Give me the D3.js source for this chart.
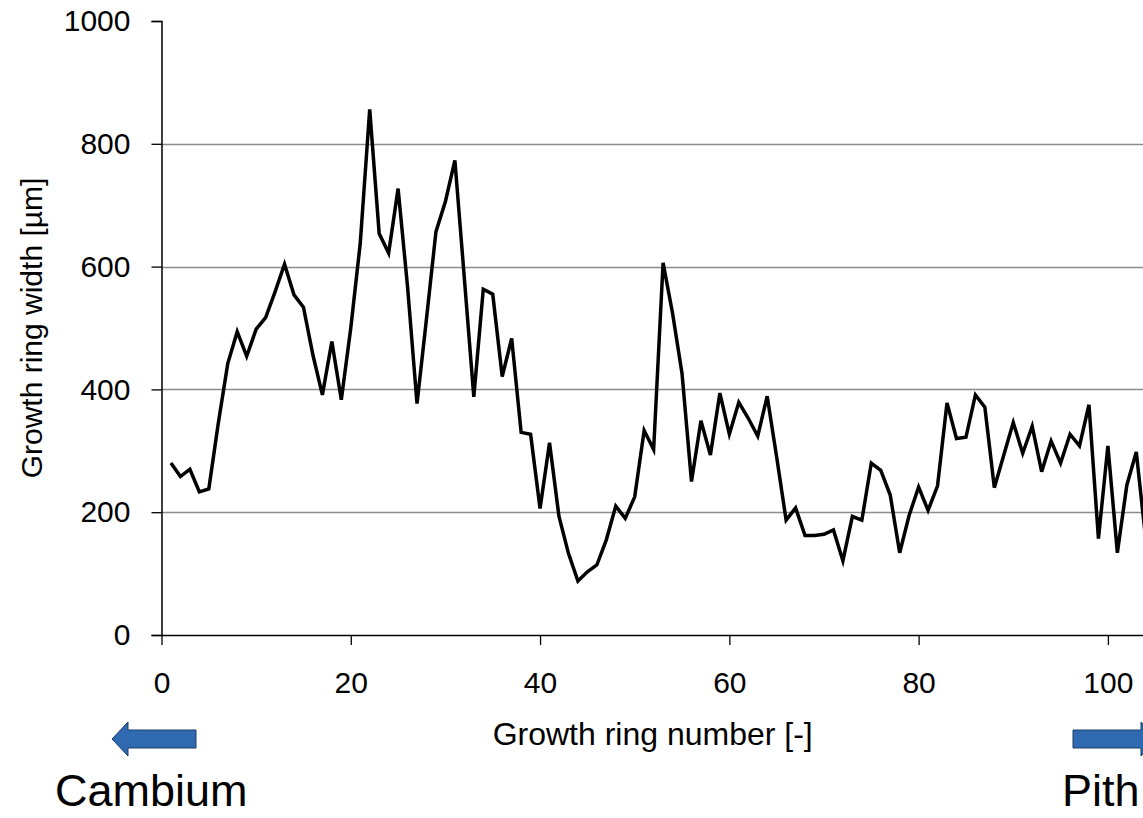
<!DOCTYPE html>
<html>
<head>
<meta charset="utf-8">
<script src="https://cdn.jsdelivr.net/npm/d3@7"></script>
<style>
  html, body { margin: 0; padding: 0; background: #fff; overflow: hidden; }
  svg { display: block; }
  text { font-family: "Liberation Sans", Arial, sans-serif; fill: #000; }
</style>
</head>
<body>
<script>
// ---- data ----
const rings = d3.range(1, 105);
const widths = [
  280, 258, 270, 233, 238, 345, 442, 494, 454, 498,
  517, 559, 604, 554, 534, 456, 391, 478, 383, 500,
  638, 856, 654, 622, 727, 567, 377, 515, 657, 706,
  773, 581, 388, 563, 555, 421, 483, 330, 327, 206,
  313, 193, 133, 88, 103, 114, 155, 210, 190, 225,
  333, 302, 606, 524, 426, 250, 349, 293, 394, 327,
  379, 353, 324, 389, 290, 187, 207, 162, 162, 164,
  171, 121, 193, 187, 280, 268, 228, 134, 195, 241,
  203, 243, 378, 320, 322, 391, 371, 240, 293, 346,
  296, 340, 266, 316, 280, 327, 308, 375, 157, 308,
  134, 244, 298, 155
];
const xTicks = [0, 20, 40, 60, 80, 100];
const yTicks = [0, 200, 400, 600, 800, 1000];
const xTitle = "Growth ring number [-]";
const yTitle = "Growth ring width [µm]";
const leftLabel = "Cambium";
const rightLabel = "Pith";

const W = 1143, H = 818;
const svg = d3.select("body").append("svg").attr("width", W).attr("height", H);

const x = d3.scaleLinear().domain([0, 100]).range([161.5, 1107.9]);
const y = d3.scaleLinear().domain([0, 1000]).range([635, 21]);

// gridlines
svg.append("g").selectAll("line")
  .data(yTicks.filter(t => t > 0 && t < 1000))
  .join("line")
  .attr("x1", x(0)).attr("x2", W + 10)
  .attr("y1", d => Math.round(y(d)) + 0.5).attr("y2", d => Math.round(y(d)) + 0.5)
  .attr("stroke", "#8c8c8c").attr("stroke-width", 1.3);

// y axis
const yAxis = d3.axisLeft(y).tickValues(yTicks).tickSize(10).tickPadding(21).tickFormat(d3.format("d"));
const gy = svg.append("g").attr("transform", `translate(${x(0)},0)`).call(yAxis);
gy.select(".domain").attr("stroke", "#000").attr("stroke-width", 1.5);
gy.selectAll(".tick line").attr("stroke", "#000").attr("stroke-width", 1.3);
gy.selectAll(".tick text").style("font-size", "30px").style("font-family", "Liberation Sans, Arial, sans-serif");

// x axis (axis line continues past the window edge)
const xAxisScale = x.copy().domain([0, 110]).range([x(0), x(110)]);
const gx = svg.append("g").attr("transform", `translate(0,${y(0)})`)
  .call(d3.axisBottom(xAxisScale).tickValues(xTicks).tickSize(10).tickSizeOuter(0).tickPadding(27));
gx.select(".domain").attr("stroke", "#000").attr("stroke-width", 1.5);
gx.selectAll(".tick line").attr("stroke", "#000").attr("stroke-width", 1.3);
gx.selectAll(".tick text").style("font-size", "30px").style("font-family", "Liberation Sans, Arial, sans-serif");

// line
const line = d3.line().x((d, i) => x(rings[i])).y(d => y(d));
svg.append("path").datum(widths)
  .attr("d", line)
  .attr("fill", "none").attr("stroke", "#000").attr("stroke-width", 3.5)
  .attr("stroke-linejoin", "miter").attr("stroke-miterlimit", 4);

// titles
svg.append("text").attr("x", (x(0) + x(100)) / 2 + 18).attr("y", 745)
  .attr("text-anchor", "middle").style("font-size", "32px").text(xTitle);
svg.append("text").attr("transform", `translate(42,${(y(0) + y(1000)) / 2}) rotate(-90)`)
  .attr("text-anchor", "middle").style("font-size", "30px").text(yTitle);

// arrows
const arrowFill = "#2f69b0";
function leftArrow(tipX, tailX, cy) {
  const hh = 17, bh = 9, hl = 16;
  const p = `M${tipX},${cy} L${tipX + hl},${cy - hh} L${tipX + hl},${cy - bh} L${tailX},${cy - bh} L${tailX},${cy + bh} L${tipX + hl},${cy + bh} L${tipX + hl},${cy + hh} Z`;
  svg.append("path").attr("d", p).attr("fill", arrowFill).attr("stroke", "#1a3d6b").attr("stroke-width", 1);
}
function rightArrow(tailX, tipX, cy) {
  const hh = 17, bh = 9, hl = 16;
  const p = `M${tipX},${cy} L${tipX - hl},${cy - hh} L${tipX - hl},${cy - bh} L${tailX},${cy - bh} L${tailX},${cy + bh} L${tipX - hl},${cy + bh} L${tipX - hl},${cy + hh} Z`;
  svg.append("path").attr("d", p).attr("fill", arrowFill).attr("stroke", "#1a3d6b").attr("stroke-width", 1);
}
leftArrow(112, 196, 739);
rightArrow(1073, 1157, 739);

svg.append("text").attr("x", 55).attr("y", 806).style("font-size", "45px").text(leftLabel);
svg.append("text").attr("x", 1062).attr("y", 806).style("font-size", "45px").text(rightLabel);
</script>
</body>
</html>
